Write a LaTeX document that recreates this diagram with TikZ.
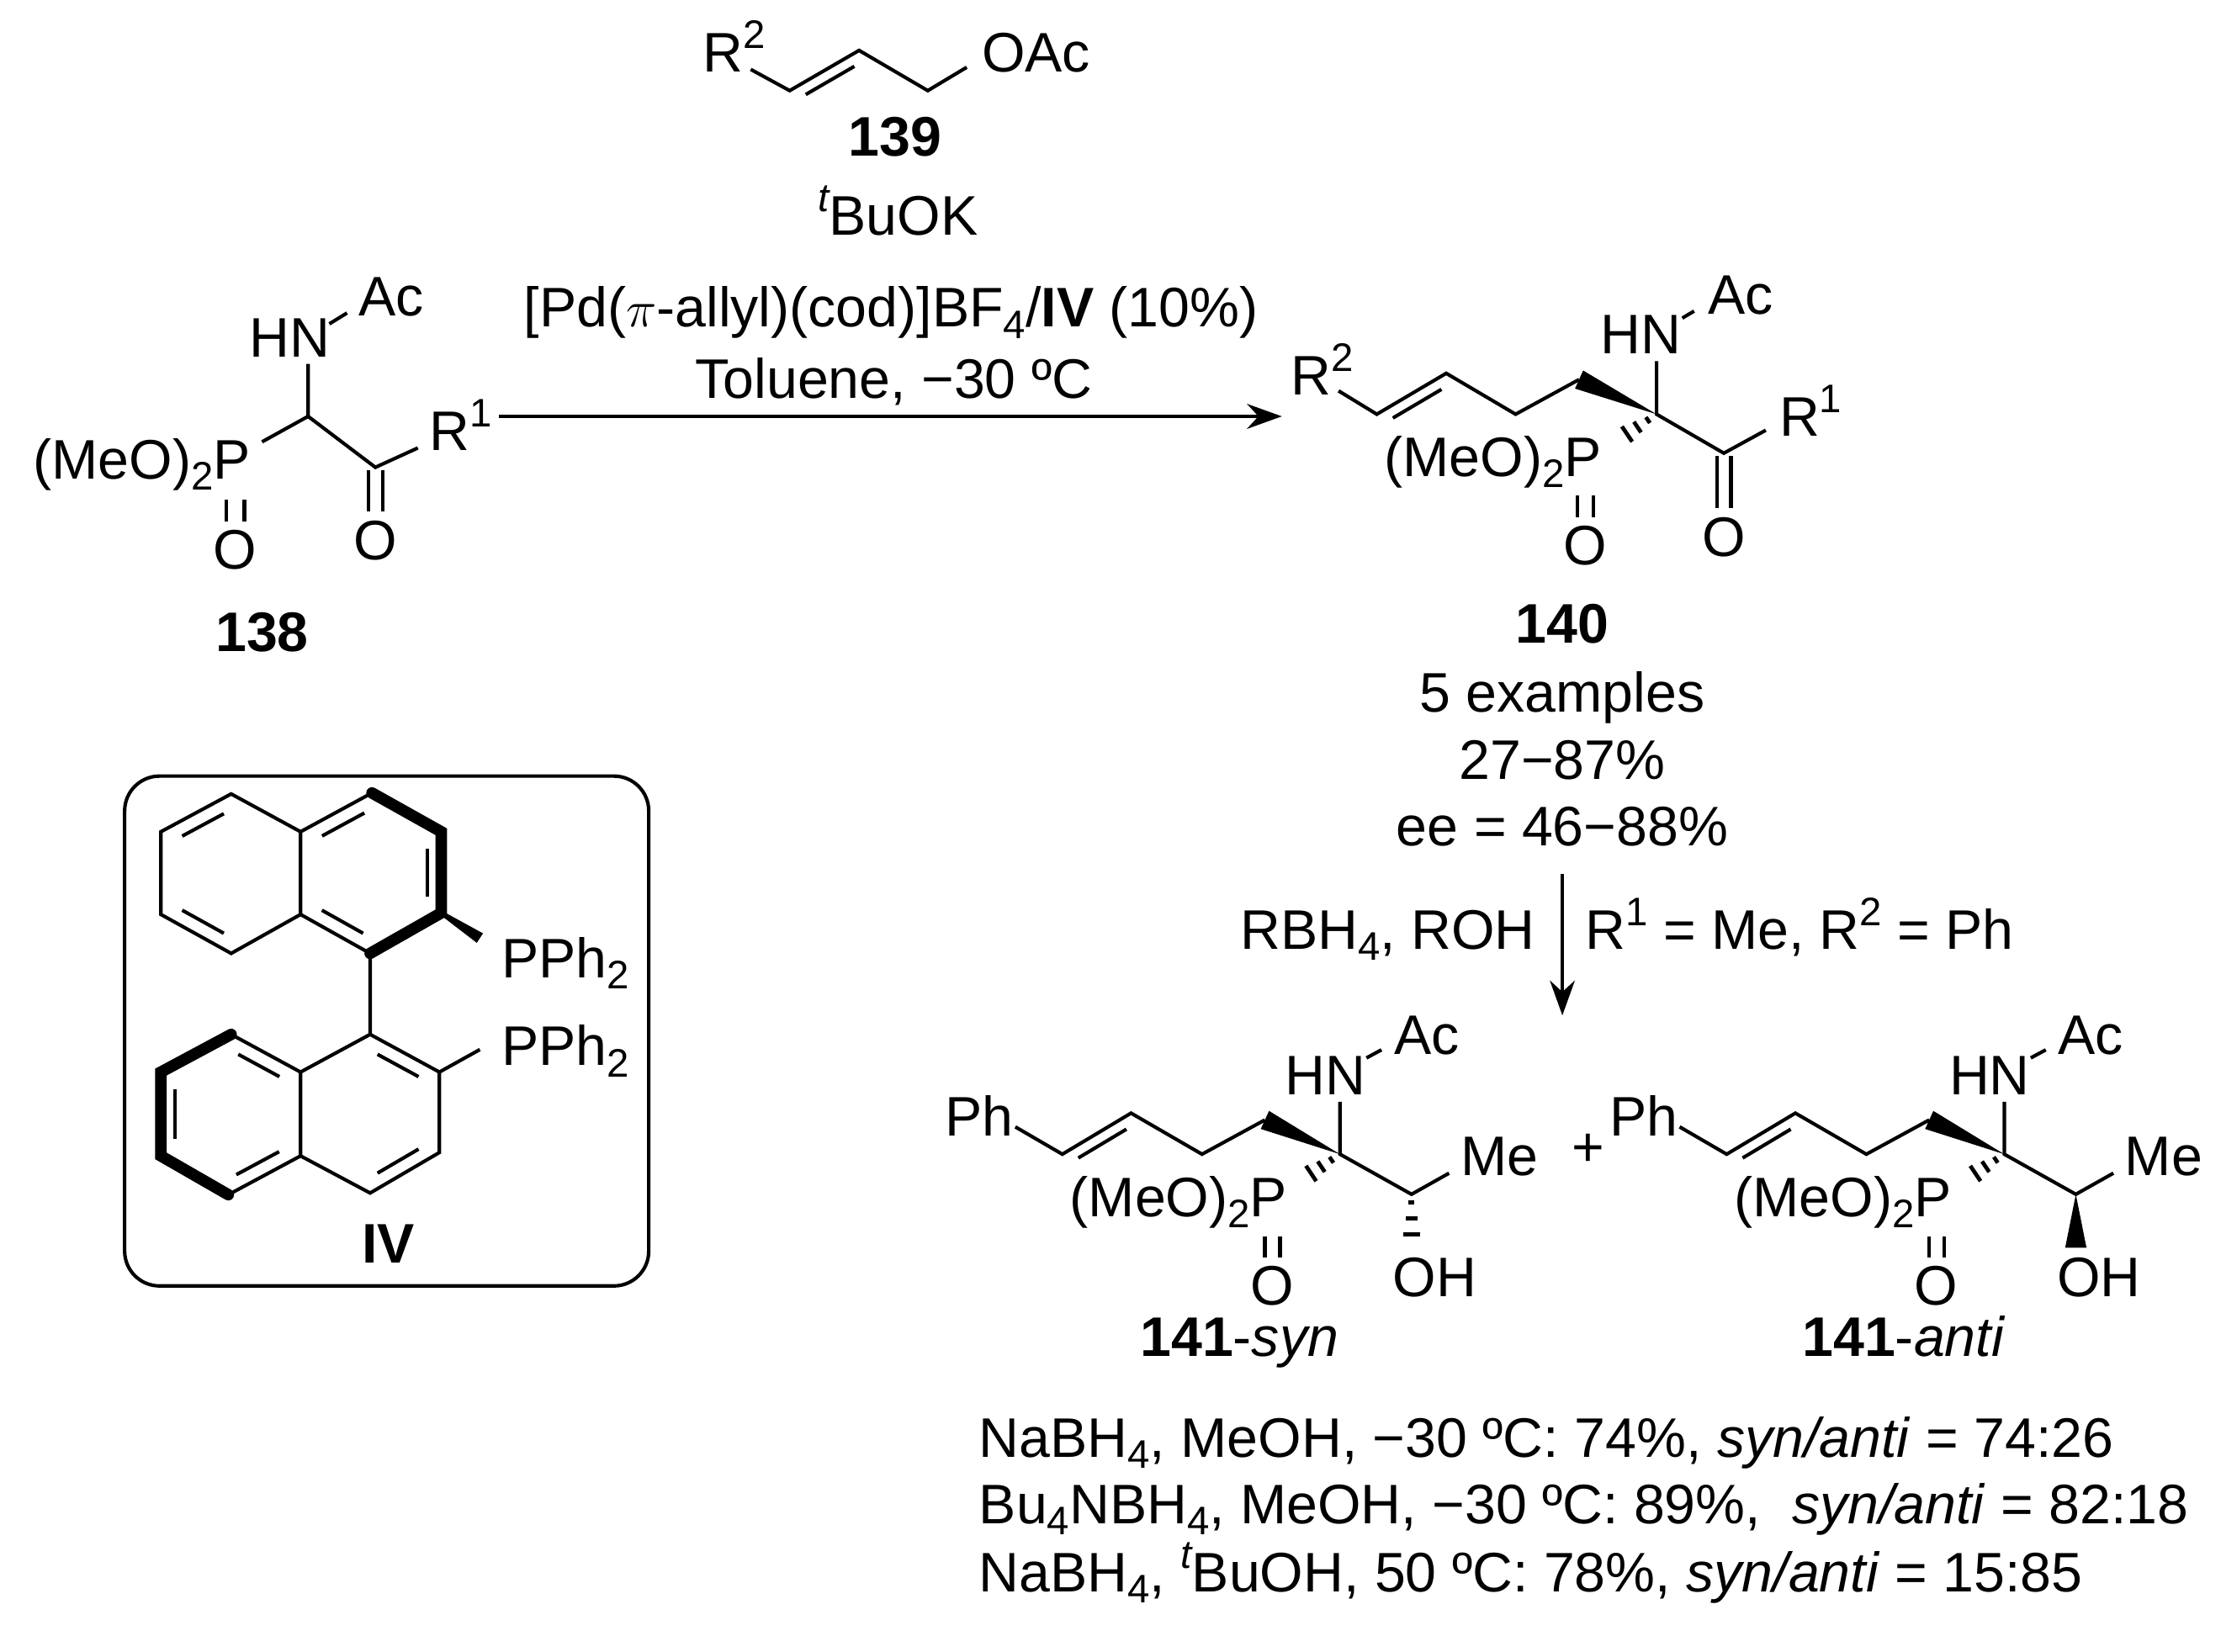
\documentclass[tikz,border=0pt]{standalone}
\usepackage{fontspec}
\setmainfont{Liberation Sans}
\usetikzlibrary{calc,arrows.meta}
\newcommand\chemfont{\fontsize{22.4}{26}\selectfont}
\newcommand\sbs[1]{\raisebox{-0.2em}{\fontsize{16}{16}\selectfont #1}}
\newcommand\sps[1]{\raisebox{0.42em}{\fontsize{16}{16}\selectfont #1}}
\newcommand\ibond[3]{\draw ($($(#1)!.13!(#2)$)!.2!(#3)$) -- ($($(#2)!.13!(#1)$)!.2!(#3)$);}
\begin{document}
\begin{tikzpicture}[x=0.02cm,y=-0.02cm,line width=1.4pt,
  lab/.style={inner sep=0pt,font=\chemfont},
  bw/.style={lab,anchor=base west}, be/.style={lab,anchor=base east}, bc/.style={lab,anchor=base},
  bold/.style={line width=4.6pt,line cap=round},
  rxn/.style={-{Stealth[length=14pt,width=10pt]}}]
\useasboundingbox (0,0) rectangle (1568,1166.5);
% ---------- 139
\node[bw] (r2a) at (495,50.5) {R\sps{2}};
\node[bw] (oac) at (692,50.5) {OAc};
\coordinate (a1) at (530,49); \coordinate (a2) at (557.5,64); \coordinate (a3) at (606.5,35.6);
\coordinate (a4) at (655,64); \coordinate (a5) at (682.5,47.5);
\draw[line join=miter] (a1)--(a2)--(a3)--(a4)--(a5);
\draw ($($(a2)!.15!(a3)$)+(4,7)$) -- ($($(a3)!.15!(a2)$)+(4,7)$);
\node[bc,font=\chemfont\bfseries] (l139) at (632,110) {139};
\node[bc] (tbuok) at (634,166) {\sps{\itshape t}BuOK};
\node[bc] (pd) at (629,231) {[Pd($\pi$-allyl)(cod)]BF\sbs{4}/\textbf{IV} (10\%)};
\node[bc] (tol) at (631,281) {Toluene, −30 ºC};
% ---------- 138
\node[bw] (hn1) at (175,252) {HN};
\node[bw] (ac1) at (252,222.8) {Ac};
\node[be] (p1) at (178,338) {(MeO)\sbs{2}P};
\node[bc] (o1) at (166,402) {O};
\node[bc] (o2) at (265,395) {O};
\node[bw] (r1a) at (302,318) {R\sps{1}};
\node[bc,font=\chemfont\bfseries] (l138) at (185,460) {138};
\coordinate (b1) at (217.5,294);
\draw (217.5,257) -- (b1) -- (185,312);
\draw (b1) -- (265,330) -- (295,316.3);
\draw (232.5,228.7) -- (245,221);
\draw (260,332) -- (260,361); \draw (270,332) -- (270,361);
\draw (160,353) -- (160,368); \draw (172.5,353) -- (172.5,368);
% arrow
\coordinate (arrS) at (352,294); \coordinate (arrE) at (905,294);
\draw[rxn] (arrS) -- (arrE);
% ---------- 140
\node[bw] (r2b) at (910,279) {R\sps{2}};
\node[bw] (hn2) at (1129,250) {HN};
\node[bw] (ac2) at (1204.5,221.7) {Ac};
\node[be] (p2) at (1132,336.5) {(MeO)\sbs{2}P};
\node[bc] (o3) at (1119,399) {O};
\node[bc] (o4) at (1217,393) {O};
\node[bw] (r1b) at (1255,308) {R\sps{1}};
\coordinate (c1) at (945,276); \coordinate (c2) at (972,292.5); \coordinate (c3) at (1021,263.6);
\coordinate (c4) at (1070,292.5); \coordinate (c5) at (1114.8,268); \coordinate (cq) at (1169.5,292.5);
\coordinate (cc) at (1217,320);
\draw[line join=miter] (c1)--(c2)--(c3)--(c4)--(c5);
\draw ($($(c2)!.15!(c3)$)+(4,7)$) -- ($($(c3)!.15!(c2)$)+(4,7)$);
\fill ($(c5)!0.14cm!90:(cq)$) -- (cq) -- ($(c5)!0.14cm!-90:(cq)$) -- cycle;
\draw (1169.5,255) -- (cq) -- (cc) -- (1246.6,303.8);
\draw (1212,322) -- (1212,359); \draw (1222,322) -- (1222,359);
\draw (1113.5,350) -- (1113.5,365); \draw (1124.7,350) -- (1124.7,365);
\draw (1187.7,224.6) -- (1196,219.7);
\coordinate (ph2) at (1145,309);
\foreach \t/\w in {0.25/0.05cm,0.55/0.09cm,0.85/0.13cm}
  \draw[line width=1.6pt] ($($(cq)!\t!(ph2)$)!\w!90:(ph2)$) -- ($($(cq)!\t!(ph2)$)!\w!-90:(ph2)$);
\node[bc,font=\chemfont\bfseries] (l140) at (1103,454) {140};
\node[bc] (ex) at (1103,503) {5 examples};
\node[bc] (yl) at (1103,550) {27−87\%};
\node[bc] (ee) at (1103,597) {ee = 46−88\%};
\coordinate (d1) at (1103,617); \coordinate (d2) at (1103,717);
\draw[rxn] (d1) -- (d2);
\node[be] (rbh) at (1085,670) {RBH\sbs{4}, ROH};
\node[bw] (rme) at (1118,670) {R\sps{1} = Me, R\sps{2} = Ph};
% ---------- 141 syn / anti
\foreach \dx/\nm/\lbl in {0/syn/syn,469/anti/anti}{
\begin{scope}[xshift=\dx*0.02cm]
\node[bw] (ph-\nm) at (666,802) {Ph};
\node[bw] (hn-\nm) at (906,773) {HN};
\node[bw] (ac-\nm) at (983,744.3) {Ac};
\node[bw] (me-\nm) at (1030,830) {Me};
\node[be] (p-\nm) at (910,859) {(MeO)\sbs{2}P};
\node[bc] (o-\nm) at (898,921.5) {O};
\node[bw] (oh-\nm) at (982,915.5) {OH};
\node[bc] (l-\nm) at (875,958) {\textbf{141}-\textit{\lbl}};
\coordinate (e1) at (716.8,795.7); \coordinate (e2) at (750,815); \coordinate (e3) at (798.5,786);
\coordinate (e4) at (848.6,815); \coordinate (e5) at (893,790.8); \coordinate (eq) at (946,815);
\coordinate (ech) at (996.5,843.3); \coordinate (ep) at (922,831);
\draw[line join=miter] (e1)--(e2)--(e3)--(e4)--(e5);
\draw ($($(e2)!.15!(e3)$)+(4,7)$) -- ($($(e3)!.15!(e2)$)+(4,7)$);
\fill ($(e5)!0.14cm!90:(eq)$) -- (eq) -- ($(e5)!0.14cm!-90:(eq)$) -- cycle;
\draw (946,778) -- (eq) -- (ech) -- (1023,828.4);
\draw (964.7,747) -- (975.3,741.3);
\draw (893,873) -- (893,888); \draw (903.7,873) -- (903.7,888);
\foreach \t/\w in {0.25/0.05cm,0.55/0.09cm,0.85/0.13cm}
  \draw[line width=1.6pt] ($($(eq)!\t!(ep)$)!\w!90:(ep)$) -- ($($(eq)!\t!(ep)$)!\w!-90:(ep)$);
\end{scope}}
% syn OH hashed, anti OH wedge
\foreach \t/\w in {0.15/2,0.45/4,0.75/6}
  \draw[line width=1.8pt] ($($(996.5,843.3)!\t!(996.5,881)$)+(-\w,0)$) -- ($($(996.5,843.3)!\t!(996.5,881)$)+(\w,0)$);
\fill (1465.5,843.3) -- (1458,881) -- (1473,881) -- cycle;
\node[lab] (plus) at (1121,812) {+};
% conditions
\node[bw] (cd1) at (690,1029) {NaBH\sbs{4}, MeOH, −30 ºC: 74\%, \textit{syn/anti} = 74:26};
\node[bw] (cd2) at (690,1076) {Bu\sbs{4}NBH\sbs{4}, MeOH, −30 ºC: 89\%, \ \textit{syn/anti} = 82:18};
\node[bw] (cd3) at (690,1124) {NaBH\sbs{4}, \sps{\itshape t}BuOH, 50 ºC: 78\%, \textit{syn/anti} = 15:85};
% ---------- IV box
\draw[rounded corners=14] (88,548) rectangle (458,908);
\coordinate (u1) at (163.2,560.6); \coordinate (u2) at (113.6,587.3); \coordinate (u3) at (113.6,645.7);
\coordinate (u4) at (163.2,673.2); \coordinate (u5) at (212.2,645.7); \coordinate (u6) at (212.2,587.3);
\coordinate (u7) at (262.6,559.9); \coordinate (u8) at (311.5,587.3); \coordinate (u9) at (311.5,644.6);
\coordinate (u10) at (261.3,673.2);
\coordinate (w1) at (261.3,730.4); \coordinate (w2) at (310.2,757); \coordinate (w3) at (310.2,813.8);
\coordinate (w4) at (261.3,842.4); \coordinate (w5) at (212.2,816.2); \coordinate (w6) at (212.2,757);
\coordinate (w7) at (163.2,730.4); \coordinate (w8) at (113.6,757); \coordinate (w9) at (113.6,816.2);
\coordinate (w10) at (161.2,843.6);
\coordinate (cUL) at (163,616.5); \coordinate (cUR) at (262,616.5);
\coordinate (cLL) at (163,787); \coordinate (cLR) at (262,787);
\draw[line join=miter] (u6)--(u1)--(u2)--(u3)--(u4)--(u5)--(u6)--(u7);
\draw (u5)--(u10);
\draw[bold] (u7)--(u8)--(u9)--(u10);
\draw (u10)--(w1)--(w2)--(w3)--(w4)--(w5)--(w6)--(w1);
\draw (w6)--(w7); \draw (w5)--(w10);
\draw[bold] (w7)--(w8)--(w9)--(w10);
\ibond{u2}{u1}{cUL} \ibond{u3}{u4}{cUL}
\ibond{u6}{u7}{cUR} \ibond{u8}{u9}{cUR} \ibond{u5}{u10}{cUR}
\ibond{w7}{w6}{cLL} \ibond{w8}{w9}{cLL} \ibond{w10}{w5}{cLL}
\ibond{w1}{w2}{cLR} \ibond{w4}{w3}{cLR}
\coordinate (pp1) at (338.8,662.4);
\fill ($(u9)!0.03cm!90:(pp1)$) -- ($(pp1)!0.08cm!-90:(u9)$) -- ($(pp1)!0.08cm!90:(u9)$) -- ($(u9)!0.03cm!-90:(pp1)$) -- cycle;
\draw (w2) -- (338.8,741.1);
\node[bw] (pph1) at (353,690.5) {PPh\sbs{2}};
\node[bw] (pph2) at (353,752.5) {PPh\sbs{2}};
\node[bc,font=\chemfont\bfseries] (liv) at (274,892) {IV};
\end{tikzpicture}
\end{document}
